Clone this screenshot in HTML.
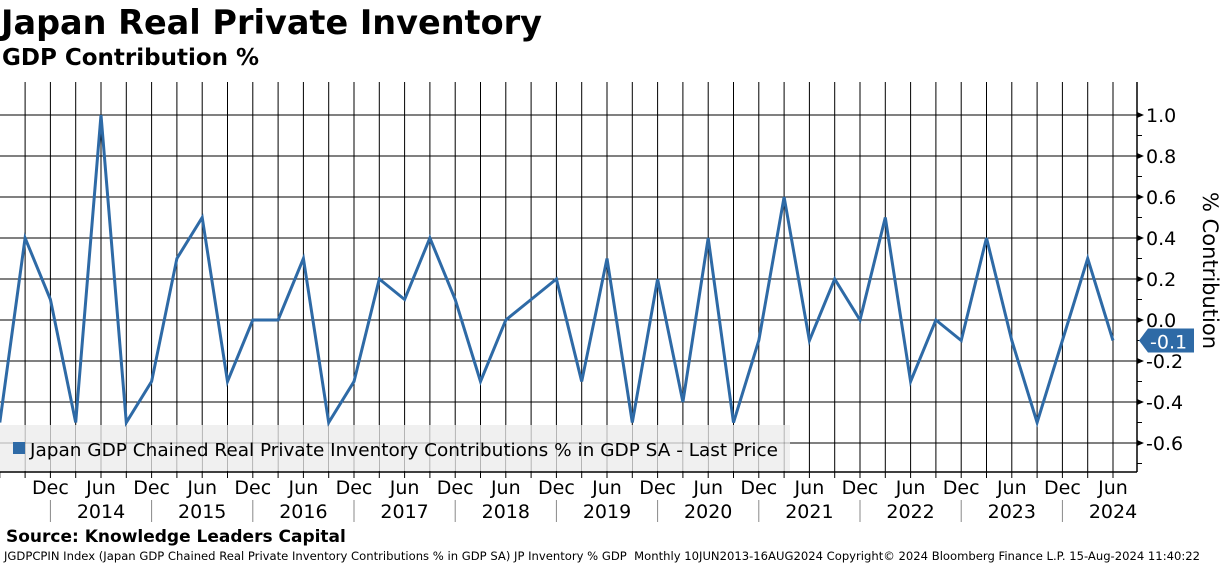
<!DOCTYPE html>
<html><head><meta charset="utf-8"><style>
body{margin:0;width:1224px;height:566px;background:#fff;font-family:"Liberation Sans","DejaVu Sans",sans-serif;overflow:hidden;position:relative}
.t{position:absolute;white-space:nowrap;color:#000}
</style></head><body>
<div class="t" style="left:1px;top:3px;font:bold 33.5px 'DejaVu Sans',sans-serif">Japan Real Private Inventory</div>
<div class="t" style="left:2px;top:45px;font:bold 23px 'DejaVu Sans',sans-serif">GDP Contribution %</div>
<svg id="c" width="1224" height="566" style="position:absolute;left:0;top:0" font-family="DejaVu Sans, sans-serif"></svg>
<div class="t" style="left:6px;top:527px;font:bold 17px 'DejaVu Sans',sans-serif">Source: Knowledge Leaders Capital</div>
<div class="t" style="left:4px;top:549px;font:11.6px 'DejaVu Sans',sans-serif">JGDPCPIN Index (Japan GDP Chained Real Private Inventory Contributions % in GDP SA) JP Inventory % GDP&nbsp; Monthly 10JUN2013-16AUG2024 Copyright© 2024 Bloomberg Finance L.P. 15-Aug-2024 11:40:22</div>
<script>
const values=[-0.5,0.4,0.1,-0.5,1.0,-0.5,-0.3,0.3,0.5,-0.3,0.0,0.0,0.3,-0.5,-0.3,0.2,0.1,0.4,0.1,-0.3,0.0,0.1,0.2,-0.3,0.3,-0.5,0.2,-0.4,0.4,-0.5,-0.1,0.6,-0.1,0.2,0.0,0.5,-0.3,0.0,-0.1,0.4,-0.1,-0.5,-0.1,0.3,-0.1];
const yTicks=[-0.6,-0.4,-0.2,0.0,0.2,0.4,0.6,0.8,1.0];
const years=['2014','2015','2016','2017','2018','2019','2020','2021','2022','2023','2024'];
const NS='http://www.w3.org/2000/svg';
const svg=document.getElementById('c');
const L=0,R=1137,T=82,B=472;
const step=25.3,lastX=1113;
const x=i=>lastX-(values.length-1-i)*step;
const y=v=>320-v*205;
function mk(t,a,p){const e=document.createElementNS(NS,t);for(const k in a)e.setAttribute(k,a[k]);(p||svg).appendChild(e);return e;}
for(let i=0;i<values.length+1;i++){const xx=x(i);if(xx<=L||xx>=R)continue;
const g=mk('line',{x1:xx,x2:xx,y1:T,y2:B,stroke:'#000','stroke-width':1});

}
yTicks.forEach(v=>{const yy=y(v);
const g=mk('line',{x1:L,x2:R,y1:yy,y2:yy,stroke:'#000','stroke-width':1});


mk('path',{d:`M${R} ${yy-3}L${R+7} ${yy}L${R} ${yy+3}Z`,fill:'#000'});
const t=mk('text',{x:1146,y:yy+7,'font-size':19,fill:'#000'});t.textContent=v.toFixed(1);

});
for(let v=-0.7;v<=1.05;v+=0.2){mk('line',{x1:R,x2:R+5,y1:y(v),y2:y(v),stroke:'#000'});}
mk('line',{x1:R,x2:R,y1:T,y2:B,stroke:'#000','stroke-width':1.5});
mk('line',{x1:L,x2:R,y1:B,y2:B,stroke:'#000','stroke-width':1.5});
const lg=mk('rect',{x:0,y:425,width:790,height:46,fill:'#f0f0f0'});


for(let i=0;i<values.length;i++){const xx=x(i);if(xx>0&&xx<790)mk('line',{x1:xx,x2:xx,y1:425,y2:471,stroke:'#000','stroke-width':0.5,opacity:0.5});}
mk('line',{x1:0,x2:790,y1:y(-0.6),y2:y(-0.6),stroke:'#000','stroke-width':0.5,opacity:0.5});
mk('rect',{x:13,y:442,width:12,height:12,fill:'#2e6aa6'});
const lt=mk('text',{x:30,y:456,'font-size':18,fill:'#000',textLength:748,lengthAdjust:'spacingAndGlyphs'});lt.textContent='Japan GDP Chained Real Private Inventory Contributions % in GDP SA - Last Price';


const pts=values.map((v,i)=>x(i)+','+y(v)).join(' ');
const pl=mk('polyline',{points:pts,fill:'none',stroke:'#2e6aa6','stroke-width':3,'stroke-linejoin':'miter'});


const lv=values[values.length-1],ly=y(lv);
const tag=mk('path',{d:`M1139 ${ly}L1148 ${ly-12}L1194 ${ly-12}L1194 ${ly+12}L1148 ${ly+12}Z`,fill:'#2e6aa6'});


const tt=mk('text',{x:1150,y:ly+8,'font-size':19,fill:'#fff'});tt.textContent=lv.toFixed(1);
const yt=mk('text',{x:0,y:0,'font-size':21,fill:'#000',transform:'translate(1203,192) rotate(90)'});yt.textContent='% Contribution';


for(let i=0;i<values.length;i++){const xx=x(i);
mk('line',{x1:xx,x2:xx,y1:B,y2:B+6,stroke:'#000'});
if(i%2===0&&i>0){const lab=(i%4===2)?'Dec':'Jun';
const t=mk('text',{x:xx,y:494,'font-size':19,'text-anchor':'middle',fill:'#000'});t.textContent=lab;

}}
years.forEach((yr,k)=>{const i0=2+4*k,xc=x(i0+2);
mk('line',{x1:x(i0),x2:x(i0),y1:500,y2:522,stroke:'#888'});
const t=mk('text',{x:xc,y:518,'font-size':19,'text-anchor':'middle',fill:'#000'});t.textContent=yr;

});
</script>
</body></html>
